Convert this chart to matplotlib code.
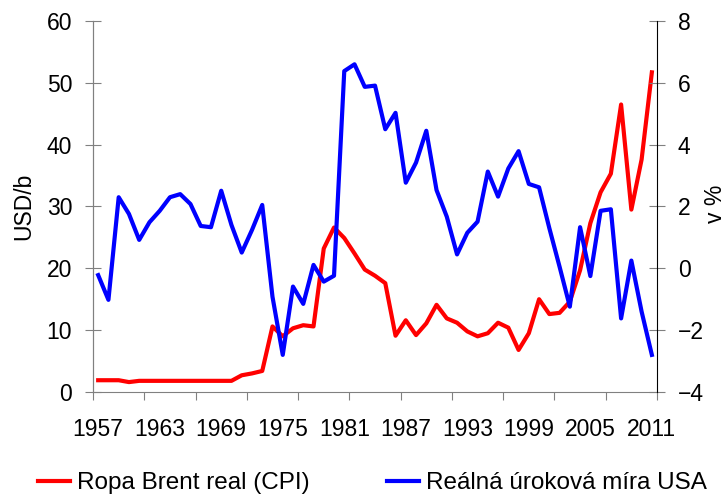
import matplotlib.pyplot as plt

plt.rcParams['font.family'] = ['Liberation Sans', 'DejaVu Sans']

years = list(range(1957, 2012))
brent = [1.9, 1.9, 1.9, 1.6, 1.8, 1.8, 1.8, 1.8, 1.8, 1.8, 1.8, 1.8, 1.8, 1.8,
         2.7, 3.0, 3.4, 10.6, 9.0, 10.3, 10.8, 10.6, 23.2, 26.6, 24.9, 22.4,
         19.8, 18.8, 17.6, 9.1, 11.6, 9.2, 11.1, 14.1, 11.9, 11.2, 9.8, 9.0,
         9.5, 11.2, 10.4, 6.8, 9.5, 15.0, 12.6, 12.8, 14.6, 19.7, 27.3, 32.3,
         35.3, 46.5, 29.5, 37.6, 51.7]
rate = [-0.22, -1.02, 2.30, 1.76, 0.92, 1.49, 1.86, 2.30, 2.40, 2.08, 1.37,
        1.33, 2.51, 1.40, 0.51, 1.24, 2.05, -0.92, -2.80, -0.59, -1.15, 0.11,
        -0.43, -0.24, 6.38, 6.60, 5.87, 5.91, 4.50, 5.03, 2.77, 3.42, 4.45,
        2.53, 1.67, 0.45, 1.15, 1.51, 3.13, 2.32, 3.23, 3.79, 2.73, 2.62, 1.30,
        0.05, -1.24, 1.33, -0.25, 1.86, 1.91, -1.62, 0.25, -1.40, -2.80]
label_years = years[::6]

fs = 16.5
gray = '#808080'
x = list(range(len(years)))

fig = plt.figure(figsize=(7.27, 4.98), dpi=100)
ax = fig.add_axes([0.128, 0.2129, 0.7757, 0.7449])
ax2 = ax.twinx()

l1, = ax.plot(x, brent, color='#ff0000', lw=3, label='Ropa Brent real (CPI)')
l2, = ax2.plot(x, rate, color='#0000ff', lw=3, label='Reálná úroková míra USA')

ax.set_xlim(-0.5, len(years) - 0.5)
ax.set_ylim(0, 60)
ax.set_yticks(range(0, 61, 10))
ax2.set_ylim(-4, 8)
ax2.set_yticks(range(-4, 9, 2))

ax.set_xticks([-0.5 + 5 * k for k in range(12)])
ax.set_xticklabels([])
ax.set_xticks([years.index(y) for y in label_years], minor=True)
ax.set_xticklabels([str(y) for y in label_years], minor=True)
ax.tick_params(axis='x', which='major', direction='out', length=6, color=gray)
ax.tick_params(axis='x', which='minor', length=0, pad=19, labelsize=fs)
ax.tick_params(axis='y', direction='inout', length=12, color=gray, pad=9, labelsize=fs)
ax2.tick_params(axis='y', direction='inout', length=12, color=gray, pad=9, labelsize=fs)

for a in (ax, ax2):
    a.spines['top'].set_visible(False)
    a.spines['left'].set_color(gray)
    a.spines['bottom'].set_color(gray)
    a.spines['right'].set_color('black')
ax2.spines['bottom'].set_visible(False)
ax.spines['right'].set_visible(False)

fig.text(0.032, 0.585, 'USD/b', rotation=90, ha='center', va='center', fontsize=fs)
fig.text(0.984, 0.59, 'v %', rotation=90, ha='center', va='center', fontsize=fs)

fig.legend(handles=[l1, l2], loc='center', bbox_to_anchor=(0.512, 0.03), ncol=2,
           frameon=False, fontsize=17.5, handlelength=1.32, handletextpad=0.29,
           columnspacing=3.17)

fig.savefig('out.png', dpi=100)
